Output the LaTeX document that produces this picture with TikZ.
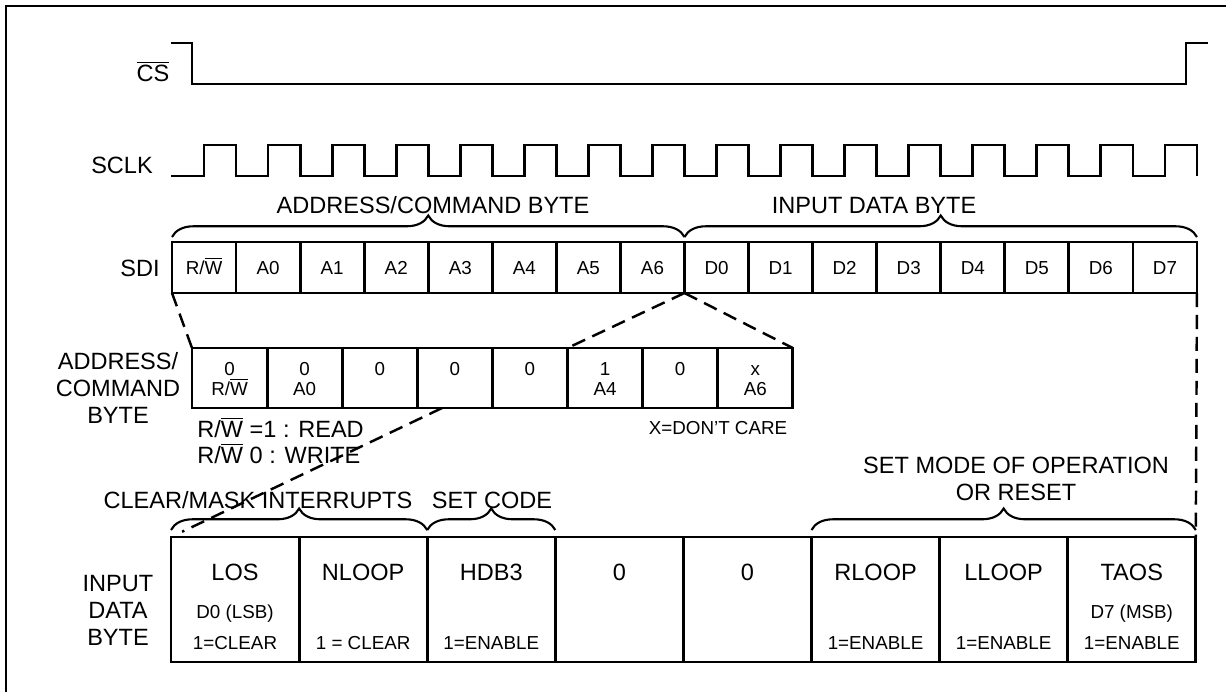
\documentclass[tikz,border=0pt]{standalone}
\usepackage{fontspec}
\setmainfont{Liberation Sans}
\usetikzlibrary{decorations.pathreplacing, calc, positioning}

\newcommand{\ovl}[1]{$\overline{\mbox{#1}}$}
\newcommand{\rwb}{R/\ovl{W}}

\begin{document}
\begin{tikzpicture}[x=0.02cm, y=-0.02cm,
    lbl/.style={font=\fontsize{13.4}{15.4}\selectfont, inner sep=0pt},
    sml/.style={font=\fontsize{10.7}{12}\selectfont, inner sep=0pt},
    sig/.style={line width=1.6pt, line join=miter},
    sdicell/.style={draw, line width=1.6pt, minimum width=1.2812cm, minimum height=1.02cm, inner sep=0pt, outer sep=0pt, text height=7.66pt, text depth=0pt, font=\fontsize{10.7}{12}\selectfont},
    acell/.style={draw, line width=1.6pt, minimum width=1.502cm, minimum height=1.2cm, inner sep=0pt, outer sep=0pt},
    dcell/.style={draw, line width=1.6pt, minimum width=2.562cm, minimum height=2.5cm, inner sep=0pt, outer sep=0pt},
    brc/.style={decorate, decoration={brace, amplitude=0.43cm}, line width=1.2pt},
    dsh/.style={line width=1.4pt, dash pattern=on 8pt off 4.5pt}
]
    \useasboundingbox (0,0) rectangle (1226,691);
    \draw[line width=1.4pt] (6,6) rectangle (1240,700);

    % signals
    \node[lbl, anchor=base] (lcs) at (153,81) {\ovl{CS}};
    \draw[sig] (171,43) -- (192,43) -- (192,84) -- (1186,84) -- (1186,43) -- (1208,43);
    \node[lbl, anchor=base] (lsclk) at (122,173) {SCLK};
    \draw[sig] (171,176) foreach \i in {0,...,15} {
        -- ({172+64.06*\i+32},176) -- ++(0,-31) -- ({172+64.06*(\i+1)},145) -- ++(0,31)};

    % serial data row
    \node[lbl, anchor=base] (lsdi) at (140,276) {SDI};
    \foreach \t [count=\i] in {\rwb,A0,A1,A2,A3,A4,A5,A6,D0,D1,D2,D3,D4,D5,D6,D7}
        \node[sdicell] (s\i) at ({172+64.06*(\i-0.5)},267.5) {\t};
    \draw[brc] ($(s1.north west)+(0,-5)$) -- ($(s8.north east)+(0,-5)$);
    \draw[brc] ($(s9.north west)+(0,-5)$) -- ($(s16.north east)+(0,-5)$);
    \node[lbl, anchor=base] (lacb) at (433,213) {ADDRESS/COMMAND BYTE};
    \node[lbl, anchor=base] (lidb) at (874,213) {INPUT DATA BYTE};

    % address/command byte
    \node[lbl, align=center] (lac) at (118,388) {ADDRESS/\\COMMAND\\BYTE};
    \foreach \ta/\tb [count=\i] in {0/\rwb, 0/A0, 0/, 0/, 0/, 1/A4, 0/, x/A6} {
        \node[acell] (a\i) at ({192+75.1*(\i-0.5)},378) {};
        \node[sml, anchor=base] (at\i) at ($(a\i.north)+(0,27)$) {\ta};
        \node[sml, anchor=base] (ab\i) at ($(a\i.north)+(0,47)$) {\tb};
    }
    \node[lbl, anchor=base west] (lrd) at (197,437) {\rwb{} =1 : READ};
    \node[lbl, anchor=base west] (lwr) at (197,463) {\rwb{} 0 : WRITE};
    \node[sml, anchor=base] (ldc) at (718,434) {X=DON’T CARE};

    % input data byte
    \node[lbl, align=center] (lid) at (118,610) {INPUT\\DATA\\BYTE};
    \foreach \ta/\tb/\tc [count=\i] in {LOS/D0 (LSB)/1=CLEAR, NLOOP//1 = CLEAR, HDB3//1=ENABLE, 0//, 0//, RLOOP//1=ENABLE, LLOOP//1=ENABLE, TAOS/D7 (MSB)/1=ENABLE} {
        \node[dcell] (d\i) at ({171+128.1*(\i-0.5)},599.5) {};
        \node[lbl, anchor=base] (dt\i) at ($(d\i.north)+(0,43)$) {\ta};
        \node[sml, anchor=base] (dm\i) at ($(d\i.north)+(0,81)$) {\tb};
        \node[sml, anchor=base] (db\i) at ($(d\i.north)+(0,112)$) {\tc};
    }
    \draw[brc] ($(d1.north west)+(0,-7)$) -- ($(d2.north east)+(0,-7)$);
    \draw[brc] ($(d3.north west)+(0,-7)$) -- ($(d3.north east)+(0,-7)$);
    \draw[brc] ($(d6.north west)+(0,-7)$) -- ($(d8.north east)+(0,-7)$);
    \node[lbl, anchor=base] (lclr) at (258,508) {CLEAR/MASK INTERRUPTS};
    \node[lbl, anchor=base] (lcode) at (492,508) {SET CODE};
    \node[lbl, anchor=base] (lmode) at (1016,473) {SET MODE OF OPERATION};
    \node[lbl, anchor=base] (lrst) at (1016,500) {OR RESET};

    % expansion lines
    \coordinate (abot) at ($(a4.south west)!0.33!(a4.south east)$);
    \draw[dsh] (s1.south west) -- (a1.north west);
    \draw[dsh] (s8.south east) -- (a6.north west);
    \draw[dsh] (s8.south east) -- (a8.north east);
    \draw[dsh, shorten >=7pt] (abot) -- (d1.north west);
    \draw[dsh] (s16.south east) -- (d8.north east);
\end{tikzpicture}
\end{document}
